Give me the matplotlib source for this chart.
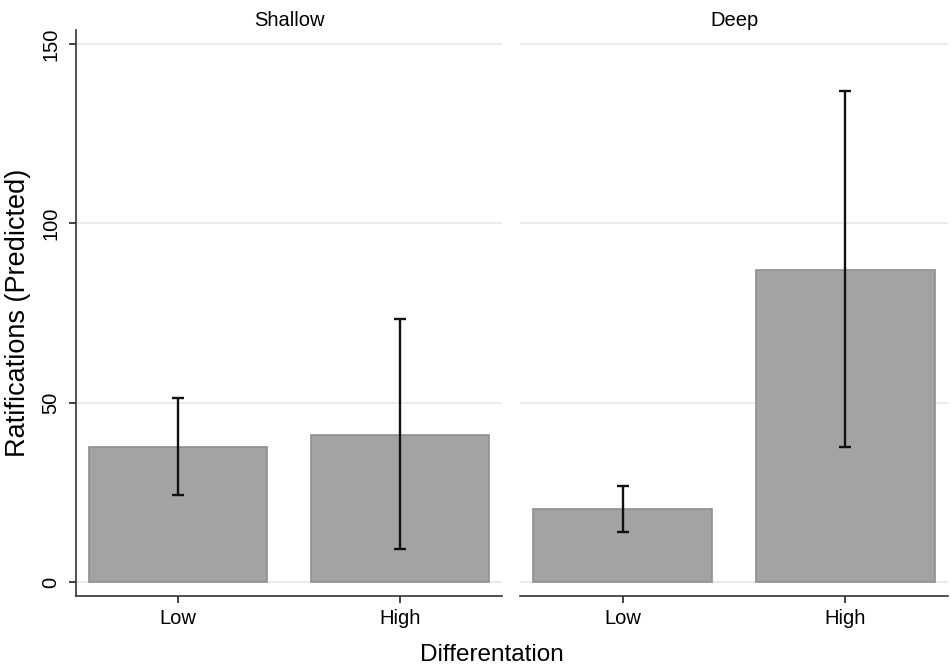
import matplotlib
matplotlib.use("Agg")
import matplotlib.pyplot as plt
import numpy as np

plt.rcParams['font.family'] = ['Liberation Sans', 'DejaVu Sans']

panels = ["Shallow", "Deep"]
categories = ["Low", "High"]
values = {"Shallow": [37.7, 41.0], "Deep": [20.3, 87.0]}
lower = {"Shallow": [24.3, 9.2], "Deep": [14.0, 37.6]}
upper = {"Shallow": [51.2, 73.3], "Deep": [26.7, 136.9]}
yticks = [0, 50, 100, 150]

fig = plt.figure(figsize=(9.52, 6.69), dpi=100)
ax1 = fig.add_axes([76/952, 1-596/669, 426/952, 566/669])
ax2 = fig.add_axes([520/952, 1-596/669, 428/952, 566/669])

x = np.arange(len(categories))
for ax, p in zip([ax1, ax2], panels):
    v = np.array(values[p])
    lo = np.array(lower[p]); hi = np.array(upper[p])
    for t in yticks:
        ax.axhline(t, color='#e6e6e6', lw=1.2, zorder=0)
    ax.bar(x, v, width=0.80, color='#a3a3a3', edgecolor='#8f8f8f', linewidth=1.2, zorder=2)
    ax.errorbar(x, v, yerr=[v - lo, hi - v], fmt='none', ecolor='#111111',
                elinewidth=1.7, capsize=4, capthick=1.7, zorder=3)
    ax.set_xlim(-0.46, 1.46)
    ax.set_ylim(-3.9, 153.9)
    ax.set_xticks(x)
    ax.set_xticklabels(categories, fontsize=14.5)
    ax.tick_params(axis='x', length=5, width=1.2, pad=4, colors='#222222', labelcolor='black')
    for s in ['top', 'right']:
        ax.spines[s].set_visible(False)
    ax.spines['bottom'].set_color('#333333')
    ax.spines['bottom'].set_linewidth(1.2)
    ax.set_title(p, fontsize=14.5, pad=3)

ax1.set_yticks(yticks)
ax1.set_yticklabels([str(t) for t in yticks], fontsize=14.5, rotation=90, va='center')
ax1.tick_params(axis='y', length=5, width=1.2, pad=6, colors='#222222', labelcolor='black')
ax1.spines['left'].set_color('#333333')
ax1.spines['left'].set_linewidth(1.2)
ax1.set_ylabel("Ratifications (Predicted)", fontsize=19.5, labelpad=8)

ax2.spines['left'].set_visible(False)
ax2.set_yticks([])

fig.text(492/952, 1-655/669, "Differentation", fontsize=17.5, ha='center', va='center')

fig.savefig("out.png", dpi=100)
